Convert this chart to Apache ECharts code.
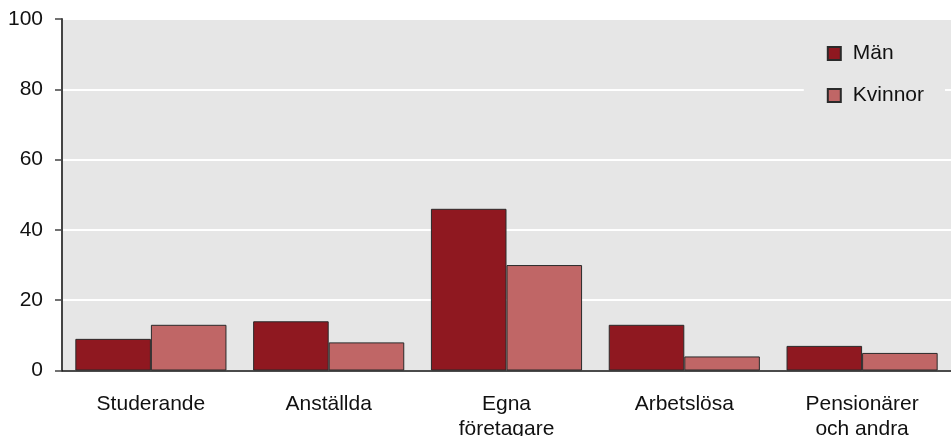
<!DOCTYPE html>
<html><head><meta charset="utf-8">
<script src="https://cdn.jsdelivr.net/npm/echarts@6/dist/echarts.min.js"></script>
<style>html,body{margin:0;padding:0;background:#fff}#c{width:951px;height:436px}</style>
</head><body><div id="c"></div>
<script>
const categories = ['Studerande', 'Anställda', 'Egna\nföretagare', 'Arbetslösa', 'Pensionärer\noch andra'];
const man = [9, 14, 46, 13, 7];
const kvinnor = [13, 8, 30, 4, 5];
const yTicks = [0, 20, 40, 60, 80, 100];

const chart = echarts.init(document.getElementById('c'), null, {renderer: 'canvas'});
const font = 'Liberation Sans, Arial, sans-serif';
chart.setOption({
  animation: false,
  backgroundColor: '#ffffff',
  textStyle: {fontFamily: font},
  grid: {left: 62, right: 0, top: 19, bottom: 65.5, show: true, backgroundColor: '#e6e6e6', borderWidth: 0,
         containLabel: false, outerBoundsMode: 'none'},
  legend: {
    orient: 'vertical', right: 6, top: 33, itemGap: 21,
    icon: 'rect',
    itemWidth: 13, itemHeight: 13, padding: [10, 21, 10, 23],
    backgroundColor: '#e6e6e6',
    textStyle: {fontFamily: font, fontSize: 21, lineHeight: 21, color: '#111', padding: [0, 0, 0, 7]},
    data: ['Män', 'Kvinnor']
  },
  xAxis: {
    type: 'category', data: categories,
    axisLine: {lineStyle: {color: '#111', width: 1.5}},
    axisTick: {show: false},
    axisLabel: {fontFamily: font, fontSize: 21, color: '#111', margin: 21, lineHeight: 25},
    splitLine: {show: false}
  },
  yAxis: {
    type: 'value', min: yTicks[0], max: yTicks[yTicks.length - 1], interval: 20,
    axisLine: {show: true, lineStyle: {color: '#444', width: 2}},
    axisTick: {show: true, length: 7, lineStyle: {color: '#444', width: 1.5}},
    axisLabel: {fontFamily: font, fontSize: 21, color: '#111', margin: 19},
    splitLine: {show: true, lineStyle: {color: '#ffffff', width: 2}}
  },
  series: [
    {name: 'Män', type: 'bar', data: man, barGap: '0%', barCategoryGap: '15%',
     itemStyle: {color: '#8f1820', borderColor: '#2a2a2a', borderWidth: 1}},
    {name: 'Kvinnor', type: 'bar', data: kvinnor, barGap: '0%', barCategoryGap: '15%',
     itemStyle: {color: '#c06666', borderColor: '#2a2a2a', borderWidth: 1}}
  ]
});
</script></body></html>
